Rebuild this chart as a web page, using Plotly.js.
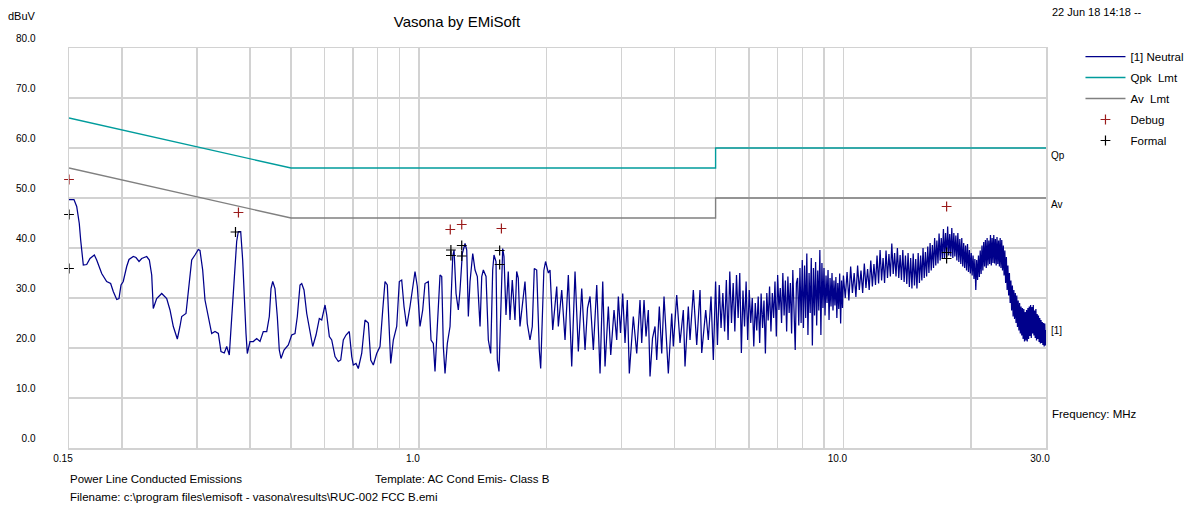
<!DOCTYPE html>
<html>
<head>
<meta charset="utf-8">
<script src="https://cdn.plot.ly/plotly-3.0.1.min.js"></script>
<style>html,body{margin:0;padding:0;background:#fff;}#chart{width:1191px;height:508px;}</style>
</head>
<body>
<div id="chart"></div>
<script>
// ---------- axis ticks ----------
const xTickVals = [0.15,0.2,0.3,0.4,0.5,0.6,0.7,0.8,0.9,1,2,3,4,5,6,7,8,9,10,20,30];
const xTickText = ['0.15','','','','','','','','','1.0','','','','','','','','','10.0','','30.0'];
const yTickVals = [0,10,20,30,40,50,60,70,80];
const yTickText = ['0.0','10.0','20.0','30.0','40.0','50.0','60.0','70.0','80.0'];

// ---------- limit lines (MHz, dBuV) ----------
const qpkFreq  = [0.15, 0.5, 5, 5, 30];
const qpkLevel = [66, 56, 56, 60, 60];
const avFreq   = [0.15, 0.5, 5, 5, 30];
const avLevel  = [56, 46, 46, 50, 50];

// ---------- markers ----------
const debugFreq  = [0.15, 0.376, 1.186, 1.262, 1.565, 17.5];
const debugLevel = [53.7, 47.1, 43.7, 44.7, 43.9, 48.3];
const formalFreq  = [0.15, 0.15, 0.370, 1.19, 1.19, 1.262, 1.262, 1.55, 1.55, 17.5, 17.5];
const formalLevel = [46.7, 35.9, 43.2, 39.6, 38.5, 40.5, 38.4, 39.5, 36.7, 39.1, 37.9];

// ---------- [1] Neutral sweep ----------
const freqA = [
0.150,0.1541,0.1564,0.1586,0.1598,0.1612,0.1621,0.1651,0.1681,0.1721,
0.1743,0.1791,0.1840,0.1880,0.1907,0.1943,0.1967,0.1989,0.2013,0.2051,
0.2077,0.2126,0.2157,0.2193,0.2225,0.2286,0.2319,0.2349,0.2369,0.2413,
0.2480,0.2548,0.2594,0.2641,0.2699,0.2738,0.2764,0.2829,0.2864,0.2918,
0.2970,0.3024,0.3052,0.3097,0.3136,0.3182,0.3252,0.3311,0.3371,0.3420,
0.3482,0.3528,0.3578,0.3605,0.3644,0.3690,0.3724,0.3757,0.3806,0.3847,
0.3881,0.3917,0.3945,0.4003,0.4075,0.4151,0.4226,0.4302,0.4383,0.4445,
0.4486,0.4528,0.4584,0.4642,0.4692,0.4736,0.4814,0.4928];
const levelA = [
49.7,49.7,48.3,44.9,41.6,37.6,36.6,36.7,37.9,38.6,
37.6,34.9,33.3,32.9,31.3,29.7,29.9,32.6,33.3,36.3,
37.7,38.3,38.1,37.3,37.9,38.3,37.6,34.6,27.9,29.9,
30.9,29.9,27.6,24.3,21.8,24.3,26.3,26.9,31.6,37.6,
38.6,39.7,39.5,35.6,29.6,26.9,22.9,23.3,22.9,19.3,
19.0,20.3,18.6,22.9,29.6,37.6,41.3,43.3,43.3,37.6,
29.6,22.9,18.9,21.3,21.3,21.9,21.3,23.3,23.3,26.3,
31.9,33.3,31.9,26.3,19.6,17.9,19.6,20.6];

const freqB = [
0.5019,0.5110,0.5174,0.5250,0.5299,0.5365,0.5445,0.5543,0.5625,0.5726,
0.5830,0.5906,0.6013,0.6069,0.6155,0.6235,0.6348,0.6462,0.6547,0.6640,
0.6738,0.6859,0.6949,0.7010,0.7113,0.7202,0.7336,0.7469,0.7604,0.7704,
0.7813,0.7958,0.8102,0.8222,0.8325,0.8429,0.8521,0.8586,0.8708,0.8870,
0.8996,0.9113,0.9228,0.9364,0.9533,0.9795,0.9918];
const levelB = [
22.6,22.9,26.3,32.6,32.9,31.6,26.9,22.9,20.3,22.6,
25.9,25.6,28.6,26.6,22.3,21.6,18.3,17.3,17.6,21.6,
22.6,23.3,18.3,16.6,16.9,15.9,18.9,25.6,25.0,17.6,
16.6,18.9,20.3,27.6,33.3,32.6,21.6,16.9,21.6,24.3,
33.3,33.6,28.3,24.3,28.3,35.3,32.3];

const freqC = [
1.0065,1.0213,1.0341,1.0528,1.0684,1.0818,1.0918,1.1055,1.1218,1.1322,
1.1421,1.1527,1.1671,1.1844,1.2019,1.2104,1.2236,1.2389,1.2504,1.2661,
1.2848,1.2967,1.3080,1.3201,1.3396,1.3565,1.3734,1.3937,1.4066,1.4189,
1.4398,1.4579,1.4766,1.4927,1.5033,1.5197,1.5305,1.5445,1.5614,1.5759,
1.5870,1.6043,1.6244,1.6395,1.6600,1.6845,1.7001,1.7149,1.7308,1.7563,
1.7784,1.8007,1.8273,1.8502,1.8705,1.8950,1.9219,1.9365,1.9700,1.9883,
2.0187];
const levelC = [
24.3,27.6,32.9,33.3,21.6,20.9,15.3,24.3,34.6,34.3,
20.3,14.9,20.9,24.3,38.3,39.6,30.9,27.6,31.6,38.9,
40.9,39.6,26.3,33.3,38.9,35.6,34.3,24.3,34.3,35.6,
34.3,21.6,18.9,35.6,38.6,37.3,17.6,15.3,31.6,39.9,
38.3,26.6,35.3,25.6,33.6,25.6,35.3,34.0,24.3,29.6,
33.3,24.9,21.6,24.3,35.9,35.6,19.6,15.9,35.5,37.3,
35.0];

const freqD = [
2.037,2.067,2.1125,2.1309,2.1706,2.2098,2.2497,2.2915,2.3329,2.3750,
2.4192,2.4629,2.4965,2.5306,2.5764,2.6243,2.6717,2.7111,2.7451,2.7947,
2.8313,2.8824,2.9248,2.9503,2.9857,3.0215,3.0594,3.0978,3.1316,3.2002,
3.2598,3.3187,3.3494,3.3915,3.4285,3.4716,3.5037,3.5516,3.5999,3.6333,
3.6850,3.7332,3.7800,3.8691,3.9411,3.9754,4.0494,4.1225,4.1970,4.2359,
4.3124,4.3524,4.4310,4.5135,4.5950,4.6376,4.7390,4.8063,4.8772,4.9384];
const levelD = [
35.6,23.6,32.3,24.3,31.6,21.6,34.6,16.3,35.3,19.3,
31.9,19.6,28.0,30.3,19.6,32.6,14.9,33.3,16.3,28.3,
18.6,27.6,21.6,30.3,23.0,30.9,21.0,29.6,14.9,26.3,
18.9,29.6,21.0,29.6,22.3,27.6,14.3,22.0,24.3,17.6,
28.3,18.9,30.3,14.9,26.9,20.3,30.6,21.0,27.6,16.3,
28.3,21.6,31.6,20.6,31.6,19.0,27.6,21.6,30.3,17.6];

const freqD2 = [
5.00,5.05,5.10,5.15,5.20,5.25,5.30,5.35,5.40,5.45,
5.50,5.55,5.60,5.65,5.70,5.75,5.80,5.85,5.90,5.95,
6.00,6.05,6.10,6.15,6.20,6.25,6.30,6.35,6.40,6.45,
6.50,6.55,6.60,6.65,6.70,6.75,6.80,6.85,6.90,6.95,
7.00,7.05,7.10,7.15,7.20,7.25,7.30,7.35,7.40,7.45,
7.50,7.55,7.60,7.65,7.70,7.75,7.80,7.85,7.90,7.95,
8.00];
const levelD2 = [
33.3,20.6,32.6,24.0,31.0,23.3,33.6,21.6,35.3,25.0,
33.0,23.3,34.6,26.0,35.0,19.0,31.5,24.3,33.3,21.6,
31.6,25.0,30.0,20.3,29.0,23.5,30.3,21.0,30.9,24.0,
29.5,18.9,31.0,25.5,32.3,23.3,31.0,26.0,33.3,22.3,
34.6,27.6,32.0,25.0,35.0,26.5,33.5,23.3,34.3,27.0,
33.0,22.9,35.6,26.0,19.6,33.0,34.0,24.5,36.0,25.0,
37.6];

const freqE = [
8.05,8.10,8.15,8.20,8.25,8.30,8.35,8.40,8.45,8.50,
8.55,8.60,8.65,8.70,8.75,8.80,8.85,8.90,8.95,9.00,
9.05,9.10,9.15,9.20,9.25,9.30,9.35,9.40,9.45,9.50,
9.55,9.60,9.65,9.70,9.75,9.80,9.85,9.90,9.95,10.00];
const levelE = [
24.0,36.5,26.0,38.9,22.6,35.0,27.0,38.0,20.5,36.0,
26.5,37.2,24.5,35.5,27.5,39.6,22.6,37.0,28.0,36.0,
26.5,34.5,29.0,35.6,25.6,34.0,28.3,35.0,27.5,33.5,
28.5,34.2,26.0,33.0,27.8,34.9,24.9,33.5,28.0,34.5];

const freqF = [
10.1,10.2,10.3,10.4,10.5,10.6,10.7,10.8,10.9,11.0,
11.1,11.2,11.3,11.4,11.5,11.6,11.7,11.8,11.9,12.0,
12.1,12.2,12.3,12.4,12.5,12.6,12.7,12.8,12.9,13.0,
13.1,13.2,13.3,13.4,13.5,13.6,13.7,13.8,13.9,14.0,
14.1,14.2,14.3,14.4,14.5,14.6,14.7,14.8,14.9,15.0,
15.1,15.2,15.3,15.4,15.5,15.6,15.7,15.8,15.9,16.0,
16.1,16.2,16.3,16.4,16.5,16.6,16.7,16.8,16.9,17.0,
17.1,17.2,17.3,17.4,17.5,17.6,17.7,17.8,17.9,18.0,
18.1,18.2,18.3,18.4,18.5,18.6,18.7,18.8,18.9,19.0,
19.1,19.2,19.3,19.4,19.5,19.6,19.7,19.8,19.9,20.0];
const levelF = [
30.0,35.2,29.5,36.3,31.0,35.0,30.2,36.5,31.6,35.5,
31.0,36.9,32.0,35.8,31.6,37.5,32.3,36.8,32.6,38.5,
32.9,39.6,33.5,38.0,33.0,39.5,34.0,38.8,34.3,40.9,
34.8,39.0,34.3,40.0,34.0,38.6,33.6,39.6,33.2,38.5,
32.8,39.0,32.2,38.0,31.9,38.9,32.5,37.8,31.9,39.0,
33.0,38.5,33.5,40.0,34.0,39.2,34.3,40.3,35.0,41.0,
35.5,40.6,36.0,42.0,36.5,41.5,36.9,42.9,37.5,42.0,
37.8,43.8,38.0,43.0,38.3,44.3,38.5,42.8,38.3,44.0,
38.0,43.0,38.3,42.5,37.5,43.0,37.2,41.8,36.8,42.0,
36.3,41.0,36.0,40.5,35.5,40.8,35.2,39.6,34.9,39.0];

const freqG = [
20.1,20.2,20.3,20.4,20.5,20.6,20.7,20.8,20.9,21.0,
21.1,21.2,21.3,21.4,21.5,21.6,21.7,21.8,21.9,22.0,
22.1,22.2,22.3,22.4,22.5,22.6,22.7,22.8,22.9,23.0,
23.1,23.2,23.3,23.4,23.5,23.6,23.7,23.8,23.9,24.0,
24.1,24.2,24.3,24.4,24.5,24.6,24.7,24.8,24.9,25.0,
25.1,25.2,25.3,25.4,25.5,25.6,25.7,25.8,25.9,26.0,
26.1,26.2,26.3,26.4,26.5,26.6,26.7,26.8,26.9,27.0,
27.1,27.2,27.3,27.4,27.5,27.6,27.7,27.8,27.9,28.0,
28.1,28.2,28.3,28.4,28.5,28.6,28.7,28.8,28.9,29.0,
29.1,29.2,29.3,29.4,29.5,29.6,29.7,29.8,29.9,30.0];
const levelG = [
34.5,38.5,33.8,37.8,31.6,37.6,33.6,38.5,34.2,39.5,
34.8,40.5,35.5,41.2,36.3,41.6,36.0,42.0,36.5,41.5,
36.8,42.6,36.5,42.0,37.0,42.6,36.9,41.8,36.5,42.2,
36.8,41.5,36.3,42.0,36.0,41.6,35.5,40.5,34.5,39.5,
33.0,38.2,31.6,36.5,30.5,35.0,29.0,33.5,27.5,32.5,
26.3,31.6,25.8,31.0,25.0,30.5,24.2,29.5,23.5,29.0,
22.9,28.3,22.5,28.0,21.8,27.8,21.3,27.2,21.5,27.6,
21.3,28.0,21.8,28.3,22.4,28.6,22.0,28.2,22.9,28.6,
22.5,27.5,22.0,27.8,21.5,26.8,21.8,26.5,21.2,26.0,
20.9,25.6,21.0,25.2,20.6,25.0,20.3,24.9,20.5,23.6];

// ---------- texts ----------
const chartTitle = 'Vasona by EMiSoft';
const yUnit = 'dBuV';
const xUnit = 'Frequency: MHz';
const stamp = '22 Jun 18 14:18 --';
const footLeft = 'Power Line Conducted Emissions';
const footMid = 'Template: AC Cond Emis- Class B';
const footFile = 'Filename: c:\\program files\\emisoft - vasona\\results\\RUC-002 FCC B.emi';

const neutralFreq = [].concat(freqA, freqB, freqC, freqD, freqD2, freqE, freqF, freqG);
const neutralLevel = [].concat(levelA, levelB, levelC, levelD, levelD2, levelE, levelF, levelG);

const FONT = '"Liberation Sans", Arial, sans-serif';
const GRID = '#d2d2d2';
const DEBUG_RED = '#9b1c1c';

const traces = [
  {x: neutralFreq, y: neutralLevel, name: '[1] Neutral', type: 'scatter', mode: 'lines',
   line: {color: '#00008b', width: 1.25}, legendgroup: 'g1', hoverinfo: 'skip'},
  {x: qpkFreq, y: qpkLevel, name: 'Qpk  Lmt', type: 'scatter', mode: 'lines',
   line: {color: '#009c9c', width: 1.4}, legendgroup: 'g2', hoverinfo: 'skip'},
  {x: avFreq, y: avLevel, name: 'Av  Lmt', type: 'scatter', mode: 'lines',
   line: {color: '#808080', width: 1.4}, legendgroup: 'g3', hoverinfo: 'skip'},
  {x: debugFreq, y: debugLevel, name: 'Debug', type: 'scatter', mode: 'markers', cliponaxis: false,
   marker: {symbol: 'cross-thin', size: 7, color: DEBUG_RED, line: {color: DEBUG_RED, width: 1.2}},
   legendgroup: 'g4', hoverinfo: 'skip'},
  {x: formalFreq, y: formalLevel, name: 'Formal', type: 'scatter', mode: 'markers', cliponaxis: false,
   marker: {symbol: 'cross-thin', size: 7, color: '#000000', line: {color: '#000000', width: 1.2}},
   legendgroup: 'g5', hoverinfo: 'skip'}
];

function note(text, x, y, size, extra) {
  return Object.assign({text: text, x: x, y: y, xref: 'paper', yref: 'paper', showarrow: false,
    xanchor: 'left', yanchor: 'middle', font: {family: FONT, size: size, color: '#000'}}, extra || {});
}

const layout = {
  width: 1191, height: 508,
  margin: {l: 69, r: 145, t: 48, b: 60, pad: 0, autoexpand: false},
  paper_bgcolor: '#ffffff', plot_bgcolor: '#ffffff',
  font: {family: FONT, size: 11, color: '#000'},
  title: {text: chartTitle, font: {family: FONT, size: 15, color: '#000'},
          x: 0.3837, xref: 'container', xanchor: 'center', y: 0.957, yref: 'container', yanchor: 'middle'},
  xaxis: {type: 'log', range: [Math.log10(0.15), Math.log10(30)], tickmode: 'array',
          tickvals: xTickVals, ticktext: xTickText, showgrid: true, gridcolor: GRID, gridwidth: 1.5,
          showline: true, mirror: true, linecolor: GRID, linewidth: 1.5, zeroline: false, ticks: '',
          tickfont: {family: FONT, size: 10, color: '#000'}, ticklabelshift: -6, fixedrange: true},
  yaxis: {range: [0, 80], tickmode: 'array', tickvals: yTickVals, ticktext: yTickText,
          showgrid: true, gridcolor: GRID, gridwidth: 1.5, showline: true, mirror: true,
          linecolor: GRID, linewidth: 1.5, zeroline: false, ticks: '',
          tickfont: {family: FONT, size: 10, color: '#000'}, ticklabelshift: -10, ticklabelstandoff: 30,
          fixedrange: true},
  showlegend: true,
  legend: {xref: 'container', yref: 'container', x: 0.9072, y: 0.9173, xanchor: 'left', yanchor: 'top',
           bgcolor: 'rgba(0,0,0,0)', font: {family: FONT, size: 11.5, color: '#000'},
           tracegroupgap: 2, itemwidth: 40, traceorder: 'grouped'},
  annotations: [
    note(yUnit, -0.0645, 1.08, 11),
    note(stamp, 1.0041, 1.09, 11),
    note(xUnit, 1.0041, 0.085, 11.5),
    note(footLeft, -0.001, -0.0775, 11.5),
    note(footMid, 0.3112, -0.0775, 11.5),
    note(footFile, -0.001, -0.1225, 11.5),
    note('Qp', 1.003, qpkLevel[qpkLevel.length - 1], 10, {yref: 'y', yshift: -7}),
    note('Av', 1.003, avLevel[avLevel.length - 1], 10, {yref: 'y', yshift: -6}),
    note('[1]', 1.003, neutralLevel[neutralLevel.length - 1], 10, {yref: 'y'})
  ]
};

Plotly.newPlot('chart', traces, layout, {displayModeBar: false, staticPlot: true});
</script>
</body>
</html>
